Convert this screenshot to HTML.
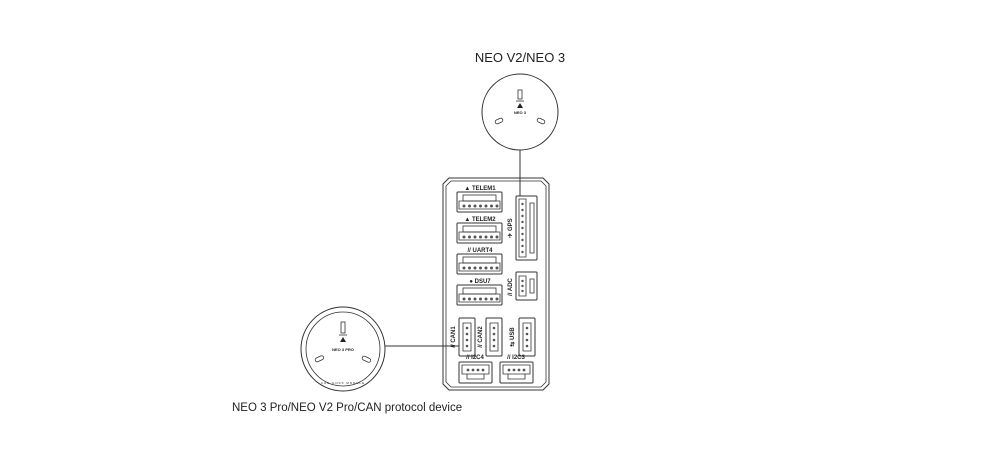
<!DOCTYPE html>
<html><head><meta charset="utf-8"><style>
html,body{margin:0;padding:0;background:#fff;width:1000px;height:469px;overflow:hidden}
svg{display:block}
text{font-family:"Liberation Sans",sans-serif;fill:#222}
.s{fill:none;stroke:#333;stroke-width:1}
.t{stroke-width:.8}
.l{font-size:6px;font-weight:bold}
</style></head><body>
<svg width="1000" height="469" viewBox="0 0 1000 469">
<defs>
<g id="h">
<rect class="s" x="0" y="0" width="45" height="20" rx="1"/>
<rect class="s t" x="6" y="3" width="33" height="6"/>
<path class="s t" d="M2 9 h41 v8 h-41z"/>
<g fill="#555"><circle cx="7" cy="14" r="1.5"/><circle cx="12.5" cy="14" r="1.5"/><circle cx="18" cy="14" r="1.5"/><circle cx="23.5" cy="14" r="1.5"/><circle cx="29" cy="14" r="1.5"/><circle cx="34.5" cy="14" r="1.5"/><circle cx="40" cy="14" r="1.5"/></g>
</g>
<g id="s">
<rect class="s" x="0" y="0" width="33" height="21" rx="1"/>
<path class="s t" d="M3 3 h27 v9 h-27z M8 12 v5 h17 v-5"/>
<g fill="#555"><circle cx="9" cy="8" r="1.4"/><circle cx="14" cy="8" r="1.4"/><circle cx="19" cy="8" r="1.4"/><circle cx="24" cy="8" r="1.4"/></g>
</g>
<g id="v">
<rect class="s" x="0" y="0" width="16" height="38" rx="1"/>
<path class="s t" d="M4 5 v28 h8 v-28z"/>
<g fill="#555"><circle cx="8" cy="10" r="1.3"/><circle cx="8" cy="16" r="1.3"/><circle cx="8" cy="22" r="1.3"/><circle cx="8" cy="28" r="1.3"/></g>
</g>
</defs>

<text x="520" y="62" font-size="13" text-anchor="middle">NEO V2/NEO 3</text>
<circle class="s" cx="520" cy="112" r="38"/>
<rect class="s t" x="518" y="90" width="4" height="9"/>
<line class="s t" x1="516" y1="101" x2="524" y2="101"/>
<path d="M517 108 L520 103 L523 108z" fill="#222"/>
<text x="520" y="114" font-size="4" text-anchor="middle" font-weight="bold">NEO 3</text>
<rect class="s t" x="495" y="119" width="8" height="4" rx="2" transform="rotate(-25 499 121)"/>
<rect class="s t" x="537" y="119" width="8" height="4" rx="2" transform="rotate(25 541 121)"/>
<line class="s" x1="520" y1="150" x2="520" y2="196"/>

<circle class="s" cx="343" cy="349" r="42"/>
<circle class="s t" cx="343" cy="349" r="37"/>
<rect class="s t" x="341" y="322" width="4" height="11"/>
<line class="s t" x1="339" y1="335" x2="347" y2="335"/>
<path d="M340 342 L343 337 L346 342z" fill="#222"/>
<text x="343" y="351" font-size="4" text-anchor="middle" font-weight="bold">NEO 3 PRO</text>
<rect class="s t" x="315" y="357" width="9" height="4" rx="2" transform="rotate(-25 319 359)"/>
<rect class="s t" x="362" y="357" width="9" height="4" rx="2" transform="rotate(25 366 359)"/>
<text x="343" y="384" font-size="3" text-anchor="middle" letter-spacing="1">CAN GNSS MODULE</text>
<line class="s" x1="385" y1="346" x2="459" y2="346"/>
<text x="232" y="411" font-size="11.5">NEO 3 Pro/NEO V2 Pro/CAN protocol device</text>

<path class="s" d="M449 178 H543 L549 184 V384 L543 390 H449 L443 384 V184Z"/>
<path class="s t" d="M451 181 H541 L546 186 V382 L541 387 H451 L446 382 V186Z"/>

<text class="l" x="480" y="190" text-anchor="middle">▲ TELEM1</text>
<use href="#h" x="457" y="192"/>
<text class="l" x="480" y="221" text-anchor="middle">▲ TELEM2</text>
<use href="#h" x="457" y="223"/>
<text class="l" x="480" y="252" text-anchor="middle">// UART4</text>
<use href="#h" x="457" y="254"/>
<text class="l" x="480" y="283" text-anchor="middle">● DSU7</text>
<use href="#h" x="457" y="285"/>

<rect class="s" x="516" y="196" width="21" height="64" rx="1"/>
<path class="s t" d="M519 199 v58 h7 v-58z M530 203 v50 h4 v-50z"/>
<g fill="#555"><circle cx="522.5" cy="204" r="1.2"/><circle cx="522.5" cy="210" r="1.2"/><circle cx="522.5" cy="216" r="1.2"/><circle cx="522.5" cy="222" r="1.2"/><circle cx="522.5" cy="228" r="1.2"/><circle cx="522.5" cy="234" r="1.2"/><circle cx="522.5" cy="240" r="1.2"/><circle cx="522.5" cy="246" r="1.2"/><circle cx="522.5" cy="252" r="1.2"/></g>
<text class="l" transform="translate(512 228) rotate(-90)" text-anchor="middle">✈ GPS</text>

<rect class="s" x="516" y="272" width="21" height="28" rx="1"/>
<path class="s t" d="M519 276 v20 h7 v-20z M530 279 v14 h4 v-14z"/>
<g fill="#555"><circle cx="522.5" cy="281" r="1.2"/><circle cx="522.5" cy="286" r="1.2"/><circle cx="522.5" cy="291" r="1.2"/></g>
<text class="l" transform="translate(512 287) rotate(-90)" text-anchor="middle">// ADC</text>

<use href="#v" x="459" y="318"/>
<text class="l" transform="translate(455 337) rotate(-90)" text-anchor="middle">// CAN1</text>
<use href="#v" x="486" y="318"/>
<text class="l" transform="translate(482 337) rotate(-90)" text-anchor="middle">// CAN2</text>
<use href="#v" x="519" y="318"/>
<text class="l" transform="translate(514 337) rotate(-90)" text-anchor="middle">⇆ USB</text>

<text class="l" x="475" y="359" text-anchor="middle">// I2C4</text>
<use href="#s" x="459" y="362"/>
<text class="l" x="516" y="359" text-anchor="middle">// I2C3</text>
<use href="#s" x="500" y="362"/>
</svg>
</body></html>
